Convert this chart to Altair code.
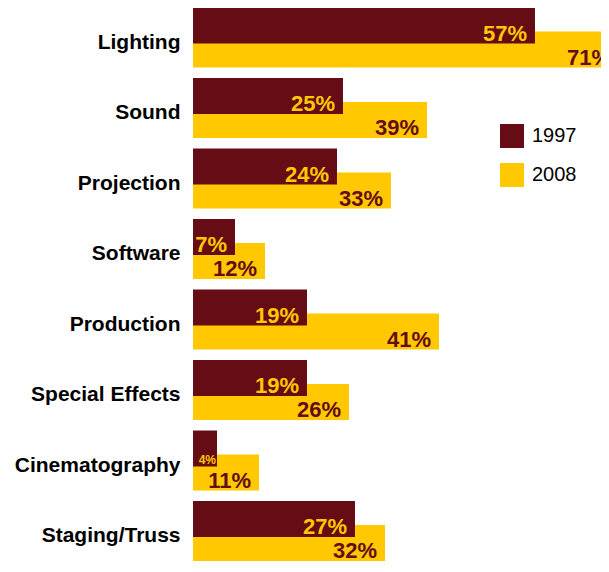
import altair as alt
import pandas as pd

categories = ["Lighting", "Sound", "Projection", "Software", "Production",
              "Special Effects", "Cinematography", "Staging/Truss"]
years = ["1997", "2008"]
v1997 = [57, 25, 24, 7, 19, 19, 4, 27]
v2008 = [71, 39, 33, 12, 41, 26, 11, 32]

rows = []
for c, a, b in zip(categories, v1997, v2008):
    rows.append({"category": c, "year": "1997", "value": a, "label": f"{a}%"})
    rows.append({"category": c, "year": "2008", "value": b, "label": f"{b}%"})
df = pd.DataFrame(rows)

DARK = "#650C14"
GOLD = "#FFC800"
FONT = "Liberation Sans"

y_enc = alt.Y(
    "category:N", sort=categories,
    scale=alt.Scale(range=[-5.75, 558.25], paddingInner=0, paddingOuter=0),
    axis=alt.Axis(title=None, domain=False, ticks=False, grid=False,
                  labelFontSize=21, labelFontWeight="bold", labelColor="black",
                  labelFont=FONT, labelPadding=13, labelLimit=300,
                  labelBaseline="alphabetic", labelOffset=11),
)
x_enc = alt.X("value:Q", scale=alt.Scale(domain=[0, 68], nice=False, zero=True), axis=None)
color_enc = alt.Color(
    "year:N", scale=alt.Scale(domain=years, range=[DARK, GOLD]),
    legend=alt.Legend(title=None, orient="none", legendX=307, legendY=116,
                      symbolType="square", symbolSize=576, symbolStrokeWidth=0,
                      symbolOpacity=1,
                      labelFontSize=20, labelFont=FONT, labelColor="black",
                      rowPadding=15, labelOffset=8, padding=0),
)

base = alt.Chart(df)

bars_2008 = base.transform_filter(alt.datum.year == "2008").mark_bar(
    size=36, yOffset=12, opacity=1).encode(x=x_enc, y=y_enc, color=color_enc)
bars_1997 = base.transform_filter(alt.datum.year == "1997").mark_bar(
    size=36, yOffset=-12, opacity=1).encode(x=x_enc, y=y_enc, color=color_enc)

lab_1997 = base.transform_filter("datum.year == '1997' && datum.value >= 5").mark_text(
    align="right", baseline="alphabetic", dx=-8, dy=3, fontSize=22,
    fontWeight="bold", font=FONT, color=GOLD).encode(x=x_enc, y=y_enc, text="label:N")
lab_1997_small = base.transform_filter("datum.year == '1997' && datum.value < 5").mark_text(
    align="right", baseline="alphabetic", dx=-1, dy=3, fontSize=12,
    fontWeight="bold", font=FONT, color=GOLD).encode(x=x_enc, y=y_enc, text="label:N")
lab_2008 = base.transform_filter("datum.year == '2008'").mark_text(
    align="right", baseline="alphabetic", dx=-8, dy=27, fontSize=22,
    fontWeight="bold", font=FONT, color=DARK).encode(x=x_enc, y=y_enc, text="label:N")

chart = alt.layer(bars_2008, bars_1997, lab_1997, lab_1997_small, lab_2008).properties(
    width=408, height=556,
    autosize=alt.AutoSizeParams(type="none"),
    padding={"left": 185, "top": 0, "right": 0, "bottom": 0},
).configure_view(stroke=None)

chart.save("out.html", embed_options={"renderer": "svg", "actions": False})
